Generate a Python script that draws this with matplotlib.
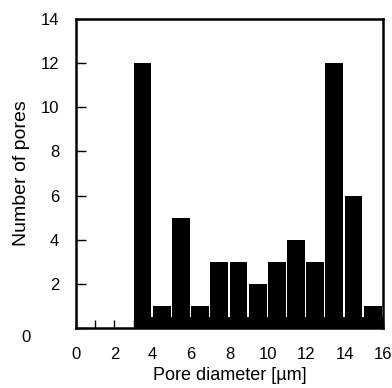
import matplotlib
matplotlib.use("Agg")
import matplotlib.pyplot as plt
import numpy as np

plt.rcParams['font.family'] = ['Liberation Sans', 'DejaVu Sans']

# Histogram of pore diameters: 1 µm bins starting at 3 µm
bin_left = [3, 4, 5, 6, 7, 8, 9, 10, 11, 12, 13, 14, 15]
counts = [12, 1, 5, 1, 3, 3, 2, 3, 4, 3, 12, 6, 1]
base_height = 0.5

xticks = [0, 2, 4, 6, 8, 10, 12, 14, 16]
yticks = [0, 2, 4, 6, 8, 10, 12, 14]

fig = plt.figure(figsize=(3.92, 3.88), dpi=100)
ax = fig.add_axes([76/392, 1 - 328/388, (383 - 76)/392, (328 - 19)/388])

ax.bar(bin_left, counts, width=0.93, align='edge', color='black', linewidth=0)
# solid base band under the bars
ax.bar(bin_left[0], base_height, width=bin_left[-1] + 1 - bin_left[0],
       align='edge', color='black', linewidth=0)

ax.set_xlim(0, 16)
ax.set_ylim(0, 14)
ax.set_xticks(xticks)
ax.set_xticks(np.arange(0, 17, 1), minor=True)
ax.set_yticks(yticks)
ax.set_yticklabels([''] + [str(v) for v in yticks[1:]])

ax.tick_params(axis='both', which='both', direction='in', labelsize=12,
               width=1.0, top=False, right=False)
ax.tick_params(axis='y', which='major', length=7, pad=12)
ax.tick_params(axis='x', which='major', length=6, pad=14)
ax.tick_params(axis='x', which='minor', length=6)

for s in ax.spines.values():
    s.set_linewidth(1.8)

# zero label for the y axis sits a little below the baseline
ax.text(-2.35, -0.45, '0', fontsize=12, ha='right', va='center')

ax.set_xlabel('Pore diameter [\u00b5m]', fontsize=13, labelpad=3)
ax.set_ylabel('Number of pores', fontsize=14, labelpad=8)

fig.savefig('out.png', dpi=100)
